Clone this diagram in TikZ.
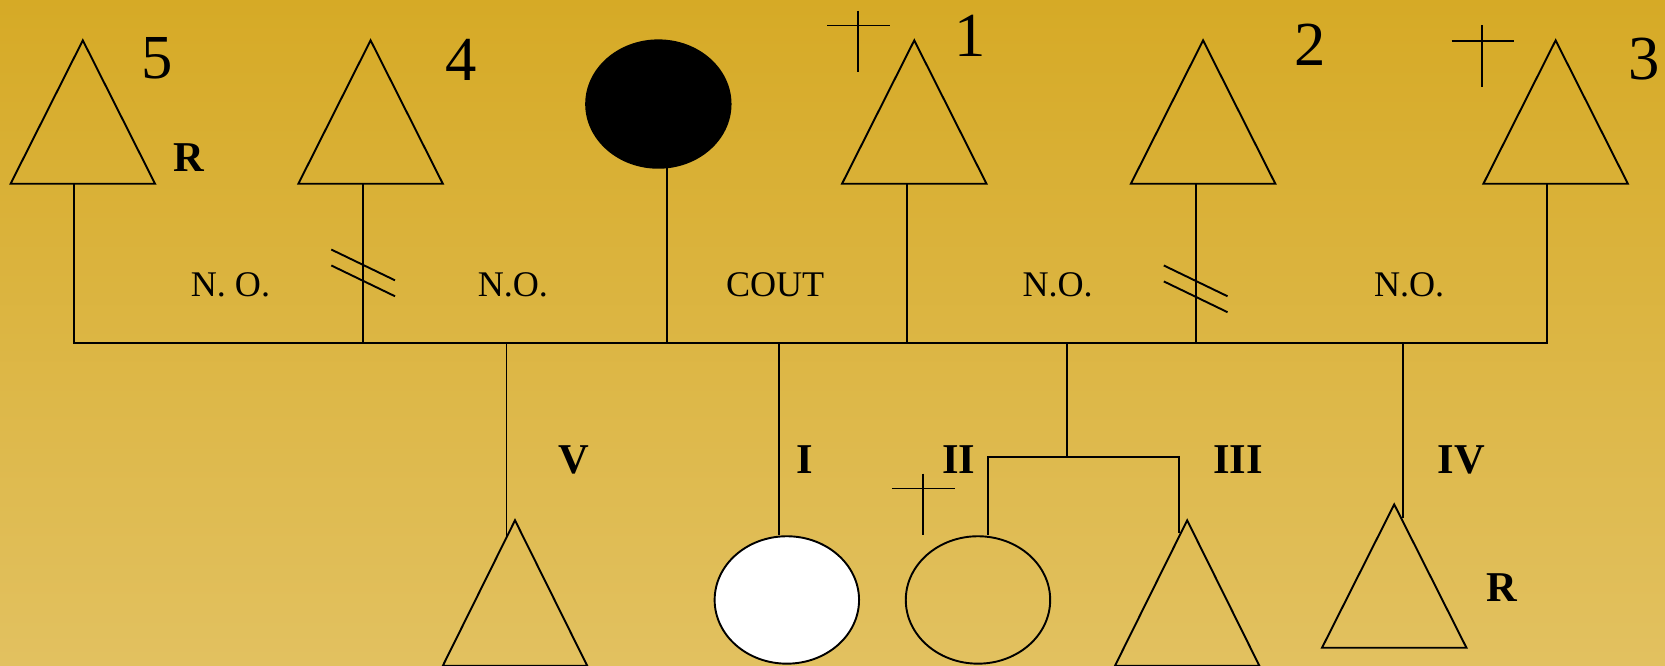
\documentclass[tikz,border=0pt]{standalone}
\usepackage{fontspec}
\setmainfont{Liberation Serif}
\usetikzlibrary{shapes.geometric}
\definecolor{bgtop}{RGB}{214,170,38}
\definecolor{bgbot}{RGB}{226,193,96}
\newcommand\pedtri[3]{\draw[shp] (#1,#2) -- ++(-68,#3) -- ++(136,0) -- cycle;}
\newcommand\pedcross[3]{\draw[shp] (#1,#2) -- ++(0,58) (#1-29,#3) -- ++(59,0);}
\begin{document}
\begin{tikzpicture}[x=1pt,y=-1pt,
  shp/.style={line width=1.8pt},
  lnk/.style={line width=1.8pt},
  num/.style={inner sep=0pt,font=\fontsize{59}{61}\selectfont},
  lbl/.style={inner sep=0pt,font=\fontsize{34}{36}\selectfont},
  rom/.style={inner sep=0pt,font=\fontsize{40}{42}\selectfont\bfseries},
  fem/.style={ellipse,draw,line width=1.8pt,minimum width=136pt,minimum height=120pt,inner sep=0pt}]
\shade[top color=bgtop,bottom color=bgbot] (0,0) rectangle (1568,627);
\useasboundingbox (0,0) rectangle (1568,627);
% top generation
\pedtri{78}{38}{135}
\pedtri{349}{38}{135}
\pedtri{861}{38}{135}
\pedtri{1133}{38}{135}
\pedtri{1465}{38}{135}
\node[fem,fill=black] (mother) at (620,98) {};
\coordinate (p5) at (70,173);
\coordinate (p4) at (342,173);
\coordinate (pm) at (628,158);
\coordinate (p1) at (854,173);
\coordinate (p2) at (1126,173);
\coordinate (p3) at (1457,173);
\coordinate (b5) at (70,323);
\coordinate (b4) at (342,323);
\coordinate (bm) at (628,323);
\coordinate (b1) at (854,323);
\coordinate (b2) at (1126,323);
\coordinate (b3) at (1457,323);
\draw[lnk] (p5) -- (b5) -- (b3) -- (p3);
\draw[lnk] (p4) -- (b4);
\draw[lnk] (pm) -- (bm);
\draw[lnk] (p1) -- (b1);
\draw[lnk] (p2) -- (b2);
% divorce marks
\draw[shp] (312,235) -- (372,264) (312,250) -- (372,279);
\draw[shp] (1096,250) -- (1156,279) (1096,265) -- (1156,294);
% deceased crosses
\pedcross{808}{10}{24}
\pedcross{1396}{24}{39}
\pedcross{869}{446}{460}
% labels top
\node[num] (n5) at (148,55) {5};
\node[num] (n4) at (434,56) {4};
\node[num] (n1) at (914,34) {1};
\node[num] (n2) at (1234,42) {2};
\node[num] (n3) at (1548,56) {3};
\node[rom] (r5) at (178,148) {R};
\node[lbl] (l1) at (217,268) {N. O.};
\node[lbl] (l2) at (483,268) {N.O.};
\node[lbl] (l3) at (730,268) {COUT};
\node[lbl] (l4) at (996,268) {N.O.};
\node[lbl] (l5) at (1327,268) {N.O.};
% children
\coordinate (dV) at (477,323);
\coordinate (dI) at (734,323);
\coordinate (dS) at (1005,323);
\coordinate (dIV) at (1321,323);
\coordinate (sL) at (930,430);
\coordinate (sR) at (1110,430);
\pedtri{485}{490}{137}
\pedtri{1118}{490}{137}
\pedtri{1313}{475}{135}
\node[fem,fill=white] (childI) at (741,565) {};
\node[fem] (childII) at (921,565) {};
\draw[lnk] (dV) -- (477,505);
\draw[lnk] (dI) -- (childI.north -| dI);
\draw[lnk] (dS) -- (dS |- sL);
\draw[lnk] (childII.north -| sL) -- (sL) -- (sR) -- (1110,502);
\draw[lnk] (dIV) -- (1321,488);
\node[rom] (cV) at (540,433) {V};
\node[rom] (cI) at (758,433) {I};
\node[rom] (cII) at (903,433) {II};
\node[rom] (cIII) at (1166,433) {III};
\node[rom] (cIV) at (1376,433) {IV};
\node[rom] (rIV) at (1414,553) {R};
\end{tikzpicture}
\end{document}
